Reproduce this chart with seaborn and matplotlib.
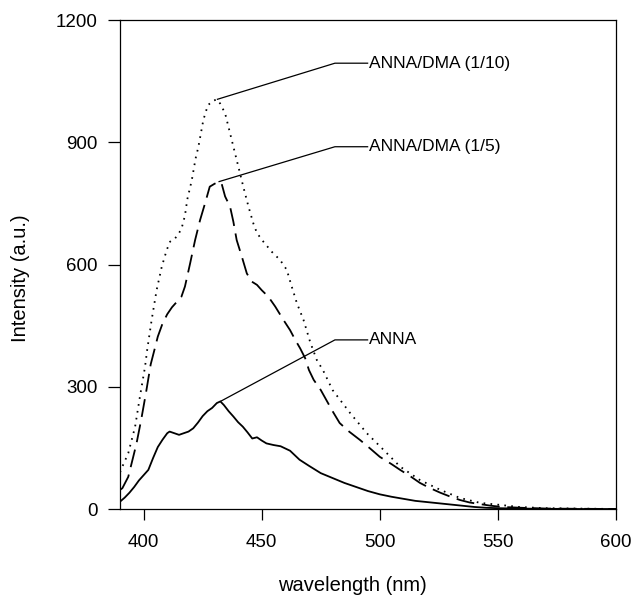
import matplotlib
matplotlib.use("Agg")
import matplotlib.pyplot as plt
import numpy as np
import pandas as pd
import seaborn as sns

# Fluorescence emission spectra (wavelength in nm, intensity in a.u.)
wl_anna = [390, 392, 394, 396, 398, 400, 402, 404, 406, 408, 410, 411, 413, 415,
           417, 419, 421, 423, 425, 427, 429, 431, 432.5, 434, 436, 438, 440, 442,
           444, 446, 448, 450, 452, 455, 458, 462, 466, 470, 475, 480, 485, 490,
           495, 500, 505, 510, 515, 520, 525, 530, 535, 540, 545, 550, 560, 570,
           585, 600]
int_anna = [18, 28, 40, 54, 70, 83, 96, 125, 152, 170, 186, 190, 186, 182,
            186, 190, 198, 212, 228, 240, 248, 260, 264, 255, 240, 227, 213, 202,
            188, 173, 176, 168, 161, 157, 154, 143, 121, 106, 88, 76, 64, 54,
            44, 36, 30, 25, 20, 17, 14, 11, 8, 5, 3, 2, 1, 0.5,
            0, 0]

wl_dma5 = [390, 391, 393.5, 395.6, 397, 399, 401, 403, 405, 406, 408, 410, 412,
           414, 416, 417.5, 419.7, 421.8, 423.9, 426, 428, 430, 431.7, 433, 434.5,
           436.6, 438, 439.4, 441.6, 443.7, 445.8, 448, 450, 452.8, 455.7, 459.2,
           462, 464.2, 466.3, 468.4, 470, 472, 475, 480, 483, 487, 491.7, 496,
           500, 505, 508.6, 513, 517, 521, 525.6, 530, 534, 538, 542.5, 547, 552,
           560, 570, 585, 600]
int_dma5 = [47, 51, 79, 128, 161, 220, 285, 355, 400, 423, 455, 478, 495,
            508, 521, 546, 603, 660, 709, 750, 791, 798, 803, 799, 767,
            742, 705, 660, 619, 578, 558, 550, 537, 521, 497, 464,
            439, 415, 394, 370, 341, 317, 292, 240, 211, 190, 169, 148,
            128, 110, 96, 80, 64, 52, 40, 30, 22, 16, 12, 8, 5,
            3, 1, 0.5, 0]

wl_dma10 = [390, 391, 393.5, 396.4, 398.5, 400.6, 401.5, 403.4, 405.5, 407.7,
            409.8, 411.2, 413.3, 414.8, 416.1, 417.5, 418.5, 420.4, 422, 423.2,
            425.3, 427.2, 429.5, 431, 432.4, 434.5, 436.6, 438.7, 440.8, 442.2,
            444.4, 446.5, 448, 450.7, 454.3, 457.8, 460.6, 462.7, 464.9, 467.7,
            470.5, 473.3, 476, 480, 487.5, 494.5, 501.6, 508.6, 517, 525.6, 534,
            542.5, 551, 559, 570, 585, 600]
int_dma10 = [90, 104, 137, 202, 278, 349, 390, 464, 537, 595,
             636, 656, 664, 675, 689, 720, 760, 807, 860, 889,
             955, 991, 1002, 1005, 995, 971, 922, 873, 824, 791,
             742, 700, 677, 656, 631, 611, 587, 546, 505, 464,
             410, 366, 340, 292, 235, 186, 145, 104, 71, 47, 27,
             15, 10, 5, 2, 1, 0]

samples = ["ANNA", "ANNA/DMA (1/5)", "ANNA/DMA (1/10)"]

# Leader-line elbows for the curve labels (data coordinates)
elbow_x = 481
text_x = 495.5
elbow_y = {"ANNA": 415, "ANNA/DMA (1/5)": 889, "ANNA/DMA (1/10)": 1094}

x_ticks = [400, 450, 500, 550, 600]
y_ticks = [0, 300, 600, 900, 1200]

df = pd.concat([
    pd.DataFrame({"wavelength": wl_anna, "intensity": int_anna, "sample": samples[0]}),
    pd.DataFrame({"wavelength": wl_dma5, "intensity": int_dma5, "sample": samples[1]}),
    pd.DataFrame({"wavelength": wl_dma10, "intensity": int_dma10, "sample": samples[2]}),
], ignore_index=True)

sns.set_style("ticks")
plt.rcParams["font.family"] = ["Liberation Sans", "DejaVu Sans"]
plt.rcParams["text.color"] = "black"
plt.rcParams["axes.labelcolor"] = "black"
plt.rcParams["lines.scale_dashes"] = False

fig = plt.figure(figsize=(6.37, 5.96), dpi=100)
ax = fig.add_axes([0.18838, 0.14597, 0.77865, 0.82047])

sns.lineplot(
    data=df, x="wavelength", y="intensity", style="sample",
    style_order=samples,
    dashes={samples[0]: "", samples[1]: (13, 5.5), samples[2]: (1.2, 3.8)},
    color="black", linewidth=1.3, errorbar=None, legend=False, ax=ax,
)

# Curve labels joined to each spectrum's maximum by a leader line
for name, wl, vals in [(samples[0], wl_anna, int_anna),
                       (samples[1], wl_dma5, int_dma5),
                       (samples[2], wl_dma10, int_dma10)]:
    i = int(np.argmax(vals))
    ey = elbow_y[name]
    ax.plot([wl[i], elbow_x, text_x - 0.4], [vals[i], ey, ey],
            color="black", lw=0.9, solid_capstyle="butt")
    ax.text(text_x, ey, name, ha="left", va="center", fontsize=12.5,
            color="black")

ax.set_xlim(390, 600)
ax.set_ylim(0, 1200)
ax.set_xticks(x_ticks)
ax.set_yticks(y_ticks)
ax.tick_params(axis="y", direction="out", length=8.6, width=0.9, pad=7.5,
               labelsize=13.5, colors="black")
ax.tick_params(axis="x", direction="out", length=8, width=0.9, pad=10,
               labelsize=13.5, colors="black")
for side in ["top", "right", "bottom", "left"]:
    ax.spines[side].set_visible(True)
    ax.spines[side].set_linewidth(0.9)
    ax.spines[side].set_color("black")

ax.set_xlabel("wavelength (nm)", fontsize=14.5, color="black")
ax.set_ylabel("Intensity (a.u.)", fontsize=14.5, color="black")
ax.xaxis.set_label_coords(0.468, -0.137)
ax.yaxis.set_label_coords(-0.181, 0.472)

fig.savefig("out.png", dpi=100)
